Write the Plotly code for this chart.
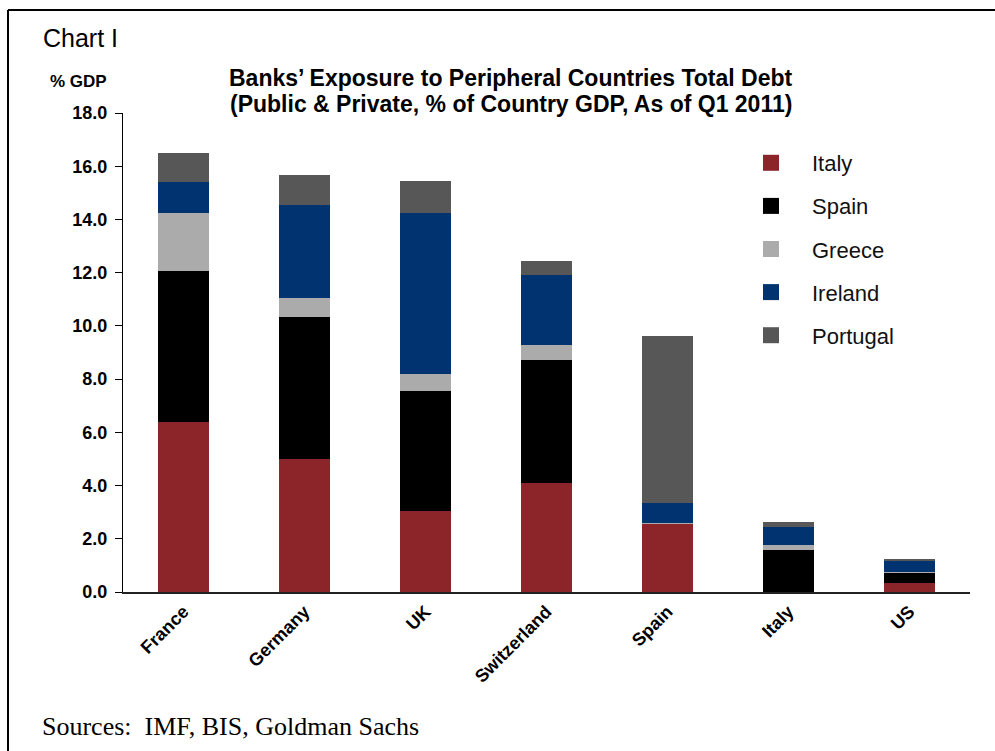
import plotly.graph_objects as go

countries = ["France", "Germany", "UK", "Switzerland", "Spain", "Italy", "US"]
italy    = [6.40, 5.00, 3.05, 4.10, 2.58, 0.00, 0.32]
spain    = [5.65, 5.33, 4.50, 4.60, 0.00, 1.57, 0.40]
greece   = [2.20, 0.70, 0.65, 0.57, 0.03, 0.18, 0.02]
ireland  = [1.15, 3.50, 6.05, 2.65, 0.75, 0.70, 0.46]
portugal = [1.10, 1.15, 1.20, 0.53, 6.25, 0.17, 0.02]

series = [
    ("Italy", italy, "#8B2529"),
    ("Spain", spain, "#000000"),
    ("Greece", greece, "#ABABAB"),
    ("Ireland", ireland, "#003370"),
    ("Portugal", portugal, "#575757"),
]
y_ticks = [0, 2, 4, 6, 8, 10, 12, 14, 16, 18]

fig = go.Figure()
for name, vals, col in series:
    fig.add_trace(go.Bar(x=countries, y=vals, name=name, marker_color=col,
                         marker_line_width=0, showlegend=False))
for name, vals, col in series:
    fig.add_trace(go.Scatter(x=[None], y=[None], mode="markers", name=name,
                             legendgroup=name,
                             marker=dict(symbol="square", size=18, color=col)))

W, H = 995, 751
L, R, T, B = 123, 25, 113, 159
pw, ph = W - L - R, H - T - B
def px(x): return (x - L) / pw
def py(y): return (H - B - y) / ph

fig.update_layout(
    width=W, height=H,
    margin=dict(l=L, r=R, t=T, b=B),
    paper_bgcolor="white", plot_bgcolor="white",
    barmode="stack", bargap=0.58,
    font=dict(family="Liberation Sans, Arial", color="black"),
    showlegend=True,
    legend=dict(x=px(730), y=py(142), xanchor="left", yanchor="top",
                traceorder="grouped", tracegroupgap=11.5, itemwidth=72,
                font=dict(size=22, family="Liberation Sans, Arial", color="#111111"),
                bgcolor="rgba(0,0,0,0)"),
    xaxis=dict(showline=True, linecolor="#222222", linewidth=2, ticks="",
               tickangle=-45, tickfont=dict(size=18, weight="bold"),
               showgrid=False, fixedrange=True),
    yaxis=dict(range=[0, 18], tickvals=y_ticks, tickformat=".1f",
               showline=True, linecolor="black", linewidth=1,
               ticks="outside", ticklen=7, tickcolor="black",
               ticklabelstandoff=4,
               tickfont=dict(size=18, weight="bold"),
               showgrid=False, zeroline=False, fixedrange=True),
    shapes=[
        dict(type="line", xref="paper", yref="paper", x0=px(8), x1=px(1000),
             y0=py(10), y1=py(10), line=dict(color="black", width=2)),
        dict(type="line", xref="paper", yref="paper", x0=px(8), x1=px(8),
             y0=py(10), y1=py(760), line=dict(color="black", width=2)),
    ],
    annotations=[
        dict(text="Chart I", xref="paper", yref="paper", x=px(41), y=py(38),
             xanchor="left", yanchor="middle", showarrow=False,
             font=dict(size=25, family="Liberation Sans, Arial")),
        dict(text="<b>% GDP</b>", xref="paper", yref="paper", x=px(109), y=py(81),
             xanchor="right", yanchor="middle", showarrow=False,
             font=dict(size=17, family="Liberation Sans, Arial")),
        dict(text="<b>Banks’ Exposure to Peripheral Countries Total Debt</b>",
             xref="paper", yref="paper", x=px(511), y=py(78),
             xanchor="center", yanchor="middle", showarrow=False,
             font=dict(size=23, family="Liberation Sans, Arial")),
        dict(text="<b>(Public &amp; Private, % of Country GDP, As of Q1 2011)</b>",
             xref="paper", yref="paper", x=px(511), y=py(104),
             xanchor="center", yanchor="middle", showarrow=False,
             font=dict(size=23, family="Liberation Sans, Arial")),
        dict(text="Sources:  IMF, BIS, Goldman Sachs", xref="paper", yref="paper",
             x=px(40), y=py(726), xanchor="left", yanchor="middle", showarrow=False,
             font=dict(size=26, family="Liberation Serif, Times New Roman")),
    ],
)

fig.write_html("out.html")
